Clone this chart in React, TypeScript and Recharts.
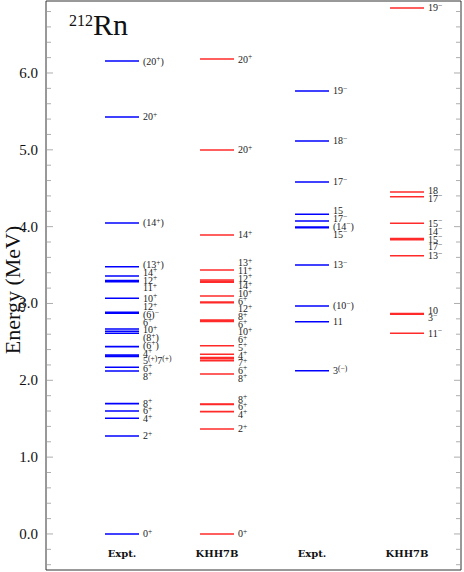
import React from 'react';
import { ScatterChart, Scatter, XAxis, YAxis } from 'recharts';

// column captions along the bottom
const columnNames = ['Expt.', 'KHH7B', 'Expt.', 'KHH7B'];
const columnColors = ['#0000ff', '#ff2a2a', '#0000ff', '#ff2a2a'];

// positive parity, experiment (MeV)
const exptPosE = [0, 1.276, 1.506, 1.601, 1.696, 2.122, 2.17, 2.31, 2.315, 2.33, 2.438, 2.612, 2.638, 2.668, 2.875, 2.885, 3.068, 3.285, 3.298, 3.358, 3.479, 4.048, 5.428, 6.156];
const exptPosJ = ['0+', '2+', '4+', '6+', '8+', '8+', '6+', '5(+)7(+)', '', '4+', '(6+)', '(8+)', '10+', '6+', '(6)−', '12+', '10+', '11+', '12+', '14+', '(13+)', '(14+)', '20+', '(20+)'];

// positive parity, KHH7B
const khhPosE = [0, 1.367, 1.592, 1.685, 1.692, 2.083, 2.256, 2.28, 2.295, 2.339, 2.45, 2.765, 2.775, 2.785, 3.01, 3.02, 3.098, 3.276, 3.29, 3.306, 3.436, 3.892, 4.998, 6.182];
const khhPosJ = ['0+', '2+', '4+', '6+', '8+', '8+', '6+', '7+', '4+', '5+', '6+', '10+', '6+', '8+', '12+', '6+', '10+', '14+', '12+', '11+', '13+', '14+', '20+', '20+'];

// negative parity, experiment
const exptNegE = [2.125, 2.763, 2.968, 3.501, 3.985, 3.996, 4.074, 4.161, 4.582, 5.115, 5.766];
const exptNegJ = ['3(−)', '11', '(10−)', '13−', '15−', '(14−)', '17−', '15', '17−', '18−', '19−'];

// negative parity, KHH7B
const khhNegE = [2.612, 2.86, 2.87, 3.622, 3.83, 3.836, 3.845, 4.044, 4.39, 4.451, 6.846];
const khhNegJ = ['11−', '3−', '10', '13−', '17−', '15−', '14−', '15−', '17−', '18', '19−'];

const yDomain = [-0.469, 6.937];
const xDomain = [-0.8, 3.568];
const yTicks = Array.from({ length: 37 }, (_, i) => Math.round((-0.4 + i * 0.2) * 10) / 10);
const labelGap = 0.1;
const captionLevel = -0.3;

const allE = [exptPosE, khhPosE, exptNegE, khhNegE];
const allJ = [exptPosJ, khhPosJ, exptNegJ, khhNegJ];

// push overlapping labels apart, clusters stay centred on their levels
const spreadLabels = (es: number[], js: string[]) => {
    const idx = es.map((_, i) => i).filter(i => js[i]).sort((a, b) => es[a] - es[b]);
    let clusters = idx.map(i => ({ members: [i], center: es[i] }));
    let changed = true;
    while (changed) {
        changed = false;
        for (let k = 0; k < clusters.length - 1; k++) {
            const a = clusters[k];
            const b = clusters[k + 1];
            const aTop = a.center + (a.members.length - 1) / 2 * labelGap;
            const bBot = b.center - (b.members.length - 1) / 2 * labelGap;
            if (bBot - aTop < labelGap) {
                const m = [...a.members, ...b.members];
                const c = m.reduce((s, i) => s + es[i], 0) / m.length;
                clusters.splice(k, 2, { members: m, center: c });
                changed = true;
                break;
            }
        }
    }
    const out: { e: number, text: string }[] = [];
    clusters.forEach(c => {
        c.members.forEach((i, j) => {
            out.push({ e: c.center + (j - (c.members.length - 1) / 2) * labelGap, text: js[i] });
        });
    });
    return out;
};

const renderSpin = (text: string) => {
    const parts = text.split(/(\([+−]\)|[+−])/).filter(p => p !== '');
    let raised = false;
    return parts.map((p, k) => {
        const sup = /^(\([+−]\)|[+−])$/.test(p);
        let dy = 0;
        if (sup && !raised) { dy = -3.5; raised = true; }
        else if (!sup && raised) { dy = 3.5; raised = false; }
        return <tspan key={k} dy={dy} fontSize={sup ? 7.5 : 10}>{p}</tspan>;
    });
};

const YTick = (props: any) => {
    const { x, y, payload, side } = props;
    const v = payload.value;
    const major = Math.abs(v - Math.round(v)) < 1e-6;
    const len = major ? 7 : 5;
    const dir = side === 'right' ? -1 : 1;
    return (
        <g>
            <line x1={x} x2={x + dir * len} y1={y} y2={y} stroke="#999" strokeWidth={0.8} />
            {side !== 'right' && major && v >= 0 && (
                <text x={x - 8} y={y + 5} textAnchor="end" fontSize={15} fontFamily="Liberation Serif" fill="#111">
                    {v.toFixed(1)}
                </text>
            )}
        </g>
    );
};

const App = () => {
    const levels = allE.map((es, c) => es.map(e => ({ x: c, e })));
    const labels = allE.map((es, c) => spreadLabels(es, allJ[c]).map(l => ({ x: c, e: l.e, text: l.text })));
    const captions = columnNames.map((name, c) => ({ x: c, e: captionLevel, name }));

    return (
        <div style={{ position: 'absolute', left: 0, top: 0, width: 464, height: 572, background: '#fff' }}>
            <ScatterChart width={464} height={572} margin={{ top: 0, right: 2, bottom: 1, left: 0 }}>
                <XAxis type="number" dataKey="x" domain={xDomain} ticks={[0, 1, 2, 3]}
                    tick={false} tickLine={false} height={1} axisLine={{ stroke: '#333' }} allowDataOverflow />
                <XAxis xAxisId="top" orientation="top" type="number" dataKey="x" domain={xDomain}
                    tick={false} tickLine={false} height={1} axisLine={{ stroke: '#333' }} allowDataOverflow />
                <YAxis type="number" dataKey="e" domain={yDomain} ticks={yTicks} interval={0} width={46}
                    tick={<YTick side="left" />} tickLine={false} tickSize={0} tickMargin={0}
                    axisLine={{ stroke: '#333' }} allowDataOverflow />
                <YAxis yAxisId="right" orientation="right" type="number" dataKey="e" domain={yDomain} ticks={yTicks}
                    interval={0} width={1} tick={<YTick side="right" />} tickLine={false} tickSize={0} tickMargin={0}
                    axisLine={{ stroke: '#333' }} allowDataOverflow />
                {levels.map((d, c) => (
                    <Scatter key={`lv${c}`} data={d} isAnimationActive={false}
                        shape={(p: any) => (
                            <line x1={p.cx - 17} x2={p.cx + 17} y1={p.cy} y2={p.cy}
                                stroke={columnColors[c]} strokeWidth={1.6} />
                        )} />
                ))}
                {labels.map((d, c) => (
                    <Scatter key={`lb${c}`} data={d} xAxisId="top" yAxisId="right" isAnimationActive={false}
                        shape={(p: any) => (
                            <text x={p.cx + 21} y={p.cy + 3.5} fontFamily="Liberation Serif" fill="#222">
                                {renderSpin(p.payload.text)}
                            </text>
                        )} />
                ))}
                <Scatter data={captions} isAnimationActive={false}
                    shape={(p: any) => (
                        <text x={p.cx} y={p.cy} textAnchor="middle" fontSize={10} fontWeight="bold"
                            fontFamily="DejaVu Serif" fill="#111">
                            {p.payload.name}
                        </text>
                    )} />
            </ScatterChart>
            <div style={{ position: 'absolute', left: 69, top: 8, fontFamily: 'Liberation Serif', color: '#111', whiteSpace: 'nowrap' }}>
                <span style={{ fontSize: 16, verticalAlign: 'top', position: 'relative', top: 4 }}>212</span>
                <span style={{ fontSize: 30 }}>Rn</span>
            </div>
            <div style={{
                position: 'absolute', left: 13, top: 290, transform: 'translate(-50%, -50%) rotate(-90deg)',
                fontFamily: 'Liberation Serif', fontSize: 22, color: '#111', whiteSpace: 'nowrap'
            }}>
                Energy (MeV)
            </div>
        </div>
    );
};

export default App;
